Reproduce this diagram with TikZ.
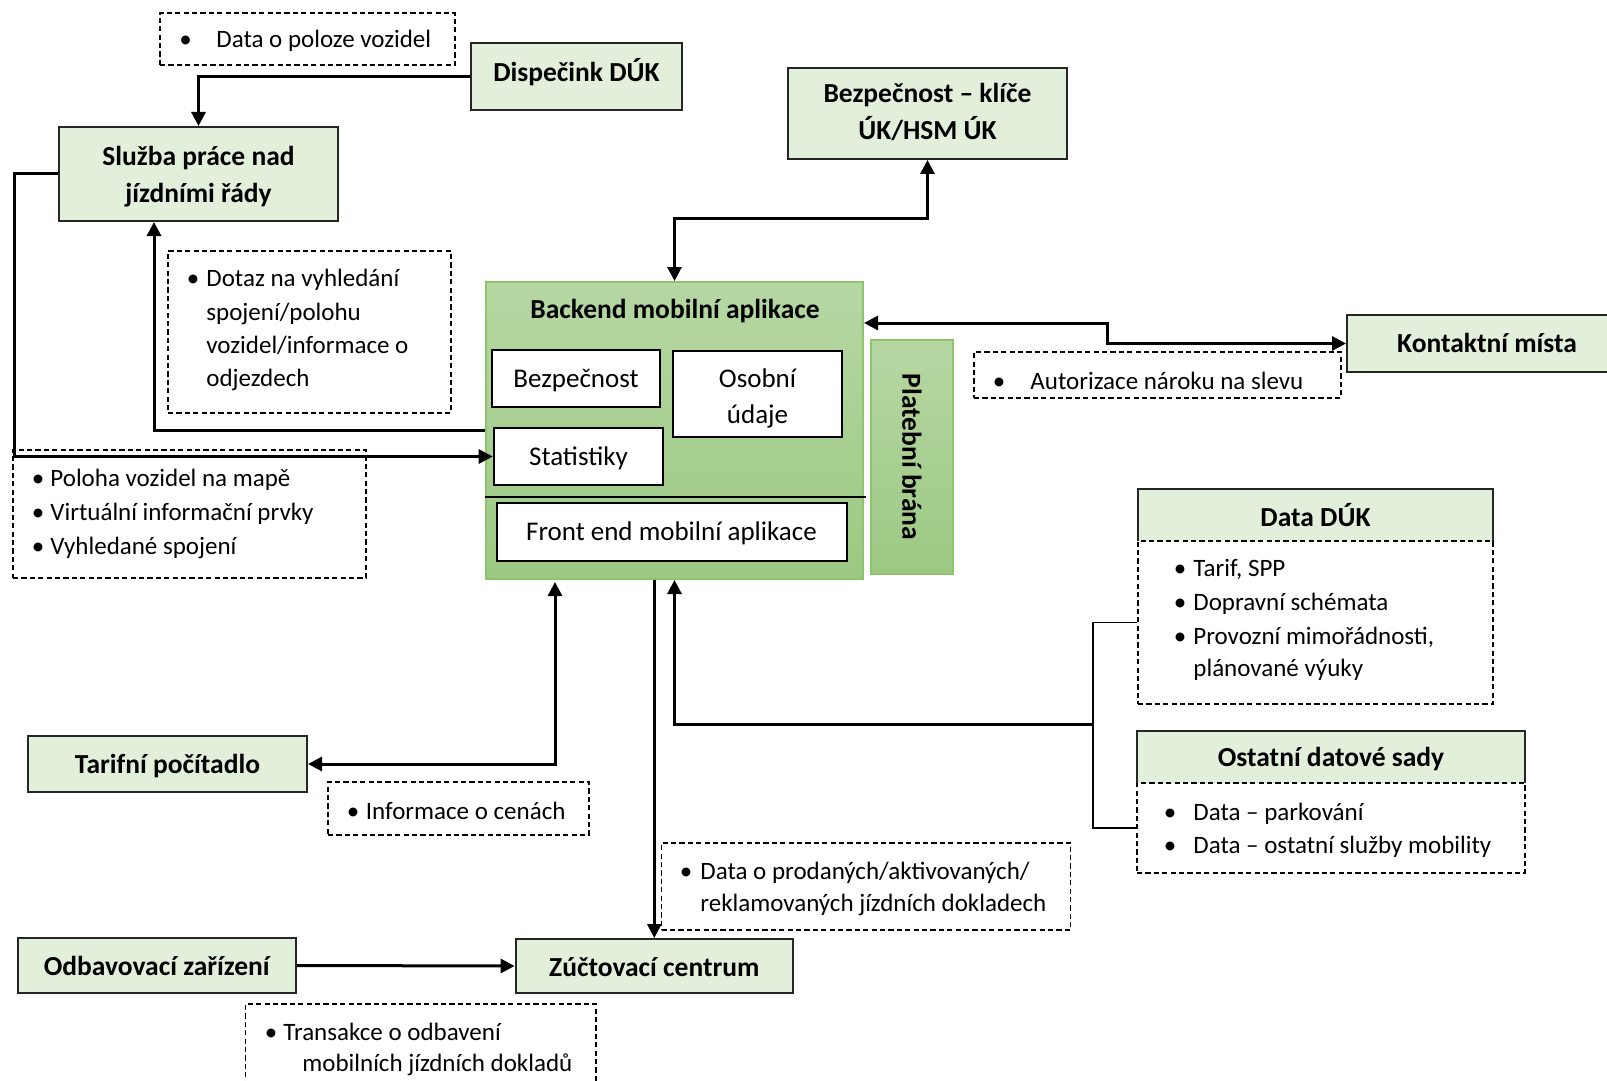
\documentclass[tikz,border=0pt]{standalone}
\usepackage{fontspec}
\setmainfont{Carlito}
\usetikzlibrary{fit,arrows.meta,calc}
\definecolor{hfill}{HTML}{E2EFDA}
\definecolor{gtop}{HTML}{B6D7A3}
\definecolor{gbot}{HTML}{9CC983}
\definecolor{gedge}{HTML}{8EC46C}
\definecolor{bordc}{HTML}{262626}
\newcommand{\bitem}[5]{%
  \node[bul] (#1b) at (#2,#4+8) {\textbullet};
  \node[itm] (#1) at (#3,#4+8) {#5};
}
\begin{document}
\begin{tikzpicture}[x=0.5pt,y=-0.5pt,
  hbox/.style={draw=bordc, line width=1pt, fill=hfill, inner sep=0pt},
  hlab/.style={inner sep=0pt, anchor=center, font=\fontsize{13.75pt}{18.5pt}\selectfont\bfseries, align=center},
  dbox/.style={draw=black, dash pattern=on 2.6pt off 1.6pt, line width=0.7pt, inner sep=0pt},
  ibox/.style={draw=black, line width=1.3pt, fill=white, inner sep=0pt},
  ilab/.style={inner sep=0pt, anchor=center, font=\fontsize{13.5pt}{18pt}\selectfont, align=center},
  gbox/.style={draw=gedge, line width=1pt, top color=gtop, bottom color=gbot, inner sep=0pt},
  itm/.style={anchor=base west, inner sep=0pt, font=\fontsize{12.5pt}{16pt}\selectfont},
  bul/.style={anchor=base, inner sep=0pt, font=\fontsize{12.5pt}{16pt}\selectfont},
  ttl/.style={anchor=base, inner sep=0pt, font=\fontsize{13.75pt}{18.5pt}\selectfont\bfseries},
  conn/.style={line width=1.5pt, -{Triangle[length=7pt,width=7pt]}},
  conntwo/.style={line width=1.5pt, {Triangle[length=7pt,width=7pt]}-{Triangle[length=7pt,width=7pt]}},
  thinl/.style={line width=0.75pt}
]
\useasboundingbox (0,0) rectangle (1607,1081);
\clip (0,0) rectangle (1607,1081);
\fill[white] (0,0) rectangle (1607,1081);

% top boxes
\node[dbox, fit={(160,13) (455,65)}] (poloze) {};
\bitem{a1}{185.5}{216}{40}{Data o poloze vozidel}
\node[hbox, fit={(471,43) (682,110)}] (disp) {};
\node[hlab] (dispt) at ($(disp.center)+(0,-4)$) {Dispečink DÚK};
\node[hbox, fit={(788,68) (1067,159)}] (klic) {};
\node[hlab] (klict) at ($(klic.center)+(0,-1.5)$) {Bezpečnost – klíče\\ÚK/HSM ÚK};
\node[hbox, fit={(59,127) (338,221)}] (sluz) {};
\node[hlab] (sluzt) at ($(sluz.center)+(0,2.5)$) {Služba práce nad\\jízdními řády};

% dotaz
\node[dbox, fit={(168,251) (451,413)}] (dotaz) {};
\bitem{d1}{193}{206}{278}{Dotaz na vyhledání}
\node[itm] (d2) at (206,320) {spojení/polohu};
\node[itm] (d3) at (206,353) {vozidel/informace o};
\node[itm] (d4) at (206,386) {odjezdech};

% poloha
\node[dbox, fit={(13,450) (366,578)}] (polo) {};
\bitem{p1}{38}{50}{478}{Poloha vozidel na mapě}
\node[bul] (p2b) at (38,520) {\textbullet};
\node[itm] (p2) at (50,520) {Virtuální informační prvky};
\node[bul] (p3b) at (38,554) {\textbullet};
\node[itm] (p3) at (50,554) {Vyhledané spojení};

% backend
\node[gbox, fit={(486,282) (863,579)}] (back) {};
\node[ttl] (backt) at (675,318) {Backend mobilní aplikace};
\node[ibox, fit={(492,350) (660,407)}] (bez) {};
\node[ilab] (bezt) at ($(bez.center)+(0,2)$) {Bezpečnost};
\node[ibox, fit={(673,351) (842,437)}] (oso) {};
\node[ilab] (osot) at ($(oso.center)+(0,4)$) {Osobní\\údaje};
\node[ibox, fit={(494,428) (663,485)}] (stat) {};
\node[ilab] (statt) at ($(stat.center)+(0,2)$) {Statistiky};
\draw[thinl] ($(back.south west)+(0,-83)$) -- ($(back.south east)+(2,-83)$);
\node[ibox, fit={(497,503) (847,561)}] (front) {};
\node[ilab] (frontt) at ($(front.center)+(-0.5,1)$) {Front end mobilní aplikace};
\node[gbox, fit={(871,340) (953,574)}] (plat) {};
\node[hlab, rotate=-90] (platt) at (plat.center) {Platební brána};

% kontaktni
\node[hbox, fit={(1347,315) (1627,372)}] (kont) {};
\node[hlab] (kontt) at ($(kont.center)+(0,-1)$) {Kontaktní místa};
\node[dbox, fit={(974,352) (1341,398)}] (aut) {};
\bitem{au1}{999}{1030}{381}{Autorizace nároku na slevu}

% Data DUK
\node[fill=hfill, inner sep=0pt, fit={(1138,489) (1493,541)}] (dukh) {};
\node[hlab] (dukt) at (dukh.center) {Data DÚK};
\node[dbox, fit={(1138,541) (1493,704)}] (dukb) {};
\draw[draw=bordc, line width=1pt] (dukh.south west) -- (dukh.north west) -- (dukh.north east) -- (dukh.south east);
\bitem{k1}{1180}{1193}{568}{Tarif, SPP}
\node[bul] (k2b) at (1180,610) {\textbullet};
\node[itm] (k2) at (1193,610) {Dopravní schémata};
\node[bul] (k3b) at (1180,644) {\textbullet};
\node[itm] (k3) at (1193,644) {Provozní mimořádnosti,};
\node[itm] (k4) at (1193,676) {plánované výuky};

% Ostatni
\node[fill=hfill, inner sep=0pt, fit={(1137,731) (1525,783)}] (osth) {};
\node[hlab] (ostt) at ($(osth.center)+(0,2)$) {Ostatní datové sady};
\node[dbox, fit={(1137,783) (1525,873)}] (ostb) {};
\draw[draw=bordc, line width=1pt] (osth.south west) -- (osth.north west) -- (osth.north east) -- (osth.south east);
\bitem{o1}{1170}{1193}{812}{Data – parkování}
\node[bul] (o2b) at (1170,853) {\textbullet};
\node[itm] (o2) at (1193,853) {Data – ostatní služby mobility};

% bottom
\node[hbox, fit={(28,736) (307,792)}] (tar) {};
\node[hlab] (tart) at ($(tar.center)+(0,2)$) {Tarifní počítadlo};
\node[dbox, fit={(328,782) (589,835)}] (info) {};
\bitem{i1}{353}{365.5}{811}{Informace o cenách}
\node[dbox, fit={(661.5,843) (1070.5,930)}] (prod) {};
\bitem{r1}{686}{700}{871}{Data o prodaných/aktivovaných/}
\node[itm] (r2) at (700,911) {reklamovaných jízdních dokladech};
\node[hbox, fit={(17.5,938) (296,993)}] (odb) {};
\node[hlab] (odbt) at (odb.center) {Odbavovací zařízení};
\node[hbox, fit={(515.6,939) (793,993)}] (zuc) {};
\node[hlab] (zuct) at ($(zuc.center)+(0,1)$) {Zúčtovací centrum};
\node[dbox, fit={(245.5,1004) (596,1100)}] (trans) {};
\bitem{t1}{271}{283}{1032}{Transakce o odbavení}
\node[itm] (t2) at (302,1071) {mobilních jízdních dokladů};

% connectors
\draw[conn] (disp.west) -| (sluz.north);
\draw[conntwo] (back.north) -- ++(0,-63) -| (klic.south);
\draw[conn] (sluz.west) -- ++(-44,0) |- (stat.west);
\draw[conn] (back.west) -| ($(sluz.south)+(-44.5,0)$);
\draw[conntwo] ($(back.north east)+(0,42)$) -- ++(243,0) |- (kont.west);
\coordinate (br) at (1093,724);
\draw[thinl] (dukb.west) -| (br) |- (ostb.west);
\draw[conn] (br) -| (back.south);
\draw[conntwo] ($(back.south west)+(70,2)$) |- (tar.east);
\draw[conn, line width=1.2pt] (back.south -| zuc.north) -- (zuc.north);
\draw[conn] (odb.east) -- (zuc.west);
\end{tikzpicture}
\end{document}
